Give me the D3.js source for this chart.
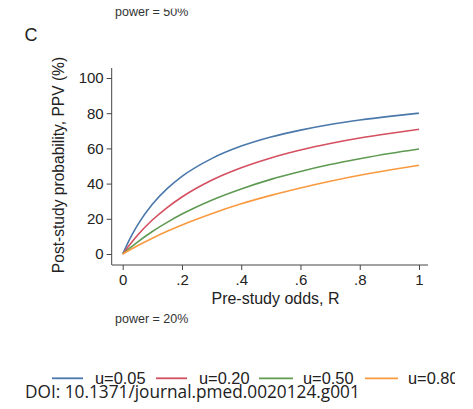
<!DOCTYPE html>
<html><head><meta charset="utf-8">
<script src="https://cdn.jsdelivr.net/npm/d3@7"></script>
<style>body{margin:0;background:#fff;} svg{display:block;}</style>
</head><body>
<svg id="c" width="473" height="409"></svg>
<script>
const R = [0, 0.025, 0.05, 0.1, 0.15, 0.2, 0.3, 0.4, 0.5, 0.6, 0.7, 0.8, 0.9, 1.0];
const ppv_u005 = [0, 8.9, 16.4, 28.2, 37.1, 44.1, 54.2, 61.3, 66.5, 70.4, 73.6, 76.1, 78.2, 80.0];
const ppv_u020 = [0, 5.6, 10.7, 19.3, 26.4, 32.4, 41.9, 49.0, 54.6, 59.1, 62.8, 65.9, 68.5, 70.8];
const ppv_u050 = [0, 3.5, 6.8, 12.8, 18.0, 22.7, 30.6, 37.0, 42.4, 46.9, 50.8, 54.1, 57.1, 59.7];
const ppv_u080 = [0, 2.4, 4.7, 9.0, 12.9, 16.5, 22.9, 28.5, 33.3, 37.5, 41.3, 44.7, 47.7, 50.4];
const seriesNames = ["u=0.05", "u=0.20", "u=0.50", "u=0.80"];
const xTicks = [0, 0.2, 0.4, 0.6, 0.8, 1];
const xTickLabels = ["0", ".2", ".4", ".6", ".8", "1"];
const yTicks = [0, 20, 40, 60, 80, 100];
const colors = ["#4a78aa", "#d44f60", "#5f9a52", "#f99a40"];

const seriesVals = [ppv_u005, ppv_u020, ppv_u050, ppv_u080];
const svg = d3.select("#c");
const font = "'Liberation Sans', Arial, sans-serif";

const x = d3.scaleLinear().domain([0, 1]).range([122.7, 419]);
const y = d3.scaleLinear().domain([0, 100]).range([254, 78]);

// top clipped label from previous panel
svg.append("text").attr("x", 115).attr("y", 15.5).attr("font-family", font)
  .attr("font-size", 12.5).attr("fill", "#333").text("power = 50%");
svg.append("rect").attr("x", 0).attr("y", 0).attr("width", 473).attr("height", 8.6).attr("fill", "#fff");

svg.append("text").attr("x", 24.5).attr("y", 41).attr("font-family", font)
  .attr("font-size", 18).attr("fill", "#222").text("C");

// axes
const xAxis = d3.axisBottom(x).tickValues(xTicks).tickFormat((d, i) => xTickLabels[i])
  .tickSizeOuter(0).tickSize(5).tickPadding(4);
const gx = svg.append("g").attr("transform", "translate(0,265)").call(xAxis);
gx.select(".domain").remove();
gx.append("line").attr("x1", 112).attr("x2", 428).attr("y1", 0).attr("y2", 0).attr("stroke", "#444");

const yAxis = d3.axisLeft(y).tickValues(yTicks).tickSizeOuter(0).tickSize(5).tickPadding(3);
const gy = svg.append("g").attr("transform", "translate(111.7,0)").call(yAxis);
gy.select(".domain").remove();
gy.append("line").attr("x1", 0).attr("x2", 0).attr("y1", 68).attr("y2", 265).attr("stroke", "#444");

[gx, gy].forEach(g => {
  g.selectAll(".tick line").attr("stroke", "#444");
  g.selectAll(".tick text").attr("font-family", font).attr("font-size", 15).attr("fill", "#222");
});

// axis titles
svg.append("text").attr("x", 275.5).attr("y", 304).attr("text-anchor", "middle")
  .attr("font-family", font).attr("font-size", 16).attr("fill", "#222").text("Pre-study odds, R");
svg.append("text").attr("transform", "translate(63.5,165) rotate(-90)").attr("text-anchor", "middle")
  .attr("font-family", font).attr("font-size", 15.6).attr("fill", "#222").text("Post-study probability, PPV (%)");

// curves
const line = d3.line().x(d => x(d[0])).y(d => y(d[1])).curve(d3.curveMonotoneX);
seriesVals.forEach((vals, i) => {
  svg.append("path").datum(R.map((r, j) => [r, vals[j]]))
    .attr("d", line).attr("fill", "none").attr("stroke", colors[i]).attr("stroke-width", 1.6);
});

svg.append("text").attr("x", 115).attr("y", 323).attr("font-family", font)
  .attr("font-size", 12.5).attr("fill", "#333").text("power = 20%");

// legend (clipped at right)
svg.append("clipPath").attr("id", "lc").append("rect").attr("x", 0).attr("y", 340).attr("width", 455).attr("height", 60);
const lg = svg.append("g").attr("clip-path", "url(#lc)");
const lineX = [52, 156, 259, 365];
const lineW = [31, 31, 34, 33];
const textX = [95, 199, 303, 408];
seriesNames.forEach((n, i) => {
  lg.append("line").attr("x1", lineX[i]).attr("x2", lineX[i] + lineW[i]).attr("y1", 378.3).attr("y2", 378.3)
    .attr("stroke", colors[i]).attr("stroke-width", 1.8);
  lg.append("text").attr("x", textX[i]).attr("y", 383.5).attr("font-family", font)
    .attr("font-size", 16.4).attr("fill", "#222").text(n);
});

const doi = svg.append("text").attr("x", 25).attr("y", 398)
  .attr("font-family", "'Open Sans', sans-serif").attr("font-size", 16).attr("fill", "#222")
  .text("DOI: 10.1371/journal.pmed.0020124.g001");
const w = doi.node().getComputedTextLength();
doi.attr("font-size", 16 * 335 / w);
</script>
</body></html>
